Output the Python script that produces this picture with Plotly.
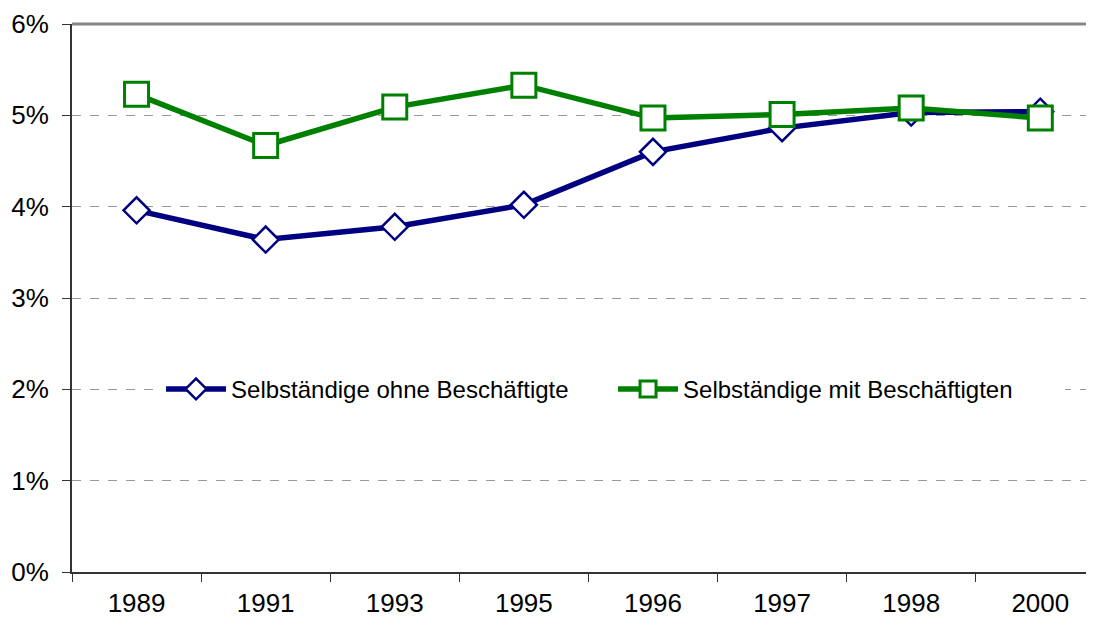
import plotly.graph_objects as go

years = ["1989", "1991", "1993", "1995", "1996", "1997", "1998", "2000"]
ohne = [3.96, 3.64, 3.78, 4.02, 4.60, 4.86, 5.03, 5.04]
mit = [5.23, 4.67, 5.09, 5.33, 4.97, 5.01, 5.08, 4.97]
name_ohne = "Selbständige ohne Beschäftigte"
name_mit = "Selbständige mit Beschäftigten"
y_ticks = [0, 1, 2, 3, 4, 5, 6]
y_labels = ["0%", "1%", "2%", "3%", "4%", "5%", "6%"]

NAVY = "#000080"
GREEN = "#008000"
FONT = "Liberation Sans, Arial, sans-serif"

fig = go.Figure()
fig.add_trace(go.Scatter(
    x=years, y=ohne, name=name_ohne, mode="lines+markers",
    line=dict(color=NAVY, width=5.5),
    marker=dict(symbol="diamond", size=20, color="white",
                line=dict(color=NAVY, width=2.5)),
))
fig.add_trace(go.Scatter(
    x=years, y=mit, name=name_mit, mode="lines+markers",
    line=dict(color=GREEN, width=5.5),
    marker=dict(symbol="square", size=24, color="white",
                line=dict(color=GREEN, width=3)),
))

fig.update_layout(
    width=1078, height=609,
    margin=dict(l=64, r=0, t=16, b=45),
    paper_bgcolor="white", plot_bgcolor="white",
    font=dict(family=FONT, color="black"),
    showlegend=True,
    legend=dict(
        orientation="h", x=0.0878, xanchor="left", y=2/6, yanchor="middle",
        bgcolor="white", font=dict(size=24, family=FONT),
        itemwidth=60, entrywidth=377, entrywidthmode="pixels",
        itemclick=False, borderwidth=0,
    ),
    xaxis=dict(
        type="category", range=[-0.5, 7.354],
        tickson="boundaries", ticks="outside", ticklen=8, tickwidth=1,
        tickcolor="#333333",
        showline=True, linecolor="#333333", linewidth=2,
        showgrid=False, zeroline=False,
        tickfont=dict(size=26, family=FONT), ticklabelstandoff=7,
    ),
    yaxis=dict(
        range=[0, 6], tickmode="array", tickvals=y_ticks, ticktext=y_labels,
        ticks="outside", ticklen=8, tickwidth=1, tickcolor="#333333",
        showline=True, linecolor="#333333", linewidth=2,
        showgrid=True, gridcolor="#999999", griddash="dash", gridwidth=1,
        zeroline=False,
        tickfont=dict(size=26, family=FONT), ticklabelstandoff=8,
    ),
    shapes=[dict(type="line", xref="paper", yref="paper", x0=0, x1=1, y0=1, y1=1,
                 line=dict(color="#888888", width=3))],
)

fig.write_html("out.html")
